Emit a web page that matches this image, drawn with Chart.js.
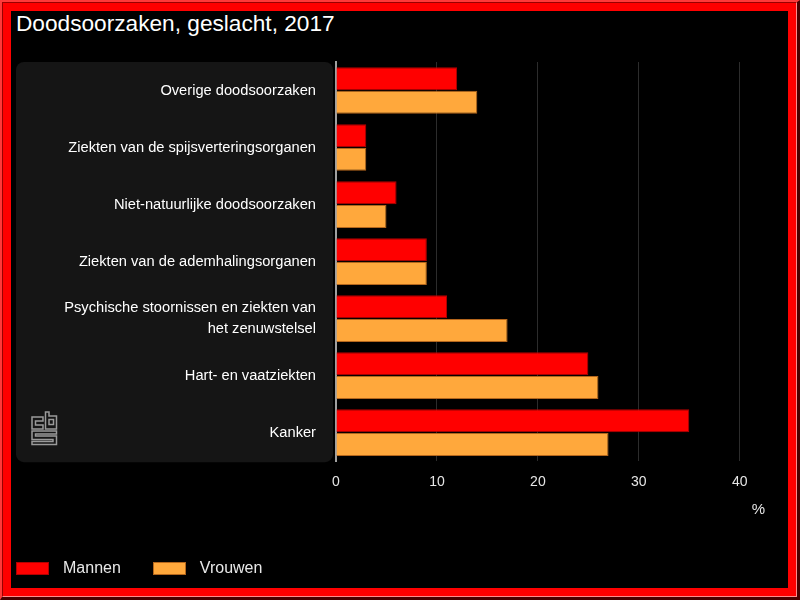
<!DOCTYPE html>
<html>
<head>
<meta charset="utf-8">
<title>Doodsoorzaken, geslacht, 2017</title>
<script src="https://cdn.jsdelivr.net/npm/chart.js@4/dist/chart.umd.min.js"></script>
<style>
    html, body { margin: 0; padding: 0; background: #000; }
    body { width: 800px; height: 600px; position: relative; overflow: hidden; font-family: 'Liberation Sans', Arial, sans-serif; }
    #chart { position: absolute; left: 0; top: 0; }
    #title { position: absolute; left: 16px; top: 10px; margin: 0; color: #fff; font-size: 22.67px; font-weight: normal; line-height: 26px; white-space: nowrap; }
    #legend { position: absolute; left: 16px; top: 556px; height: 24px; display: flex; align-items: center; color: #e8e8e8; font-size: 16px; }
    #legend .item { display: flex; align-items: center; margin-right: 32px; }
    #legend .box { width: 31px; height: 11px; border: 1px solid; margin-right: 14px; }
    /* bevelled red frame */
    .f1 { position: absolute; left: 0; top: 0; width: 800px; height: 600px; box-sizing: border-box; pointer-events: none;
          border-style: solid; border-width: 2px 3px 3px 2px; border-color: #ff3a3a #4a0000 #4a0000 #ff3a3a; }
    .f2 { height: 100%; box-sizing: border-box; border: 1px solid; border-color: #9a0000 #ff8c8c #ff8c8c #9a0000; }
    .f3 { height: 100%; box-sizing: border-box; border: 8px solid #ff0000; }
</style>
</head>
<body>
<h1 id="title">Doodsoorzaken, geslacht, 2017</h1>
<canvas id="chart" width="800" height="600"></canvas>
<div id="legend"></div>
<div class="f1"><div class="f2"><div class="f3"></div></div></div>

<script>
// data (percent of deaths)
const categories = [
    'Overige doodsoorzaken',
    'Ziekten van de spijsverteringsorganen',
    'Niet-natuurlijke doodsoorzaken',
    'Ziekten van de ademhalingsorganen',
    ['Psychische stoornissen en ziekten van', 'het zenuwstelsel'],
    'Hart- en vaatziekten',
    'Kanker'
];
const seriesNames = ['Mannen', 'Vrouwen'];
const mannen = [12, 3, 6, 9, 11, 25, 35];
const vrouwen = [14, 3, 5, 9, 17, 26, 27];
const xTicks = [0, 10, 20, 30, 40];
const xUnit = '%';

const colors = ['#ff0000', '#ffa83c'];
const borderColors = ['#b30000', '#b4661c'];

Chart.defaults.font.family = "'Liberation Sans', Arial, sans-serif";

// dark panel behind the category labels + cbs logo
const panelPlugin = {
    id: 'panel',
    beforeDraw(chart) {
        const ctx = chart.ctx;
        const a = chart.chartArea;
        const x0 = 16, x1 = a.left - 3, y0 = a.top, y1 = a.bottom + 1, r = 8;
        ctx.save();
        ctx.fillStyle = '#151515';
        ctx.beginPath();
        ctx.roundRect(x0, y0, x1 - x0, y1 - y0, r);
        ctx.fill();

        // little cbs mark, outlined
        ctx.strokeStyle = '#9a9a9a';
        ctx.lineWidth = 1.5;
        const ox = 32, oy = 412;
        // c
        ctx.beginPath();
        ctx.moveTo(ox + 11, oy + 5);
        ctx.lineTo(ox, oy + 5);
        ctx.lineTo(ox, oy + 17);
        ctx.lineTo(ox + 11, oy + 17);
        ctx.lineTo(ox + 11, oy + 13);
        ctx.lineTo(ox + 3.5, oy + 13);
        ctx.lineTo(ox + 3.5, oy + 9);
        ctx.lineTo(ox + 11, oy + 9);
        ctx.closePath();
        ctx.stroke();
        // b
        ctx.beginPath();
        ctx.moveTo(ox + 13.5, oy);
        ctx.lineTo(ox + 17, oy);
        ctx.lineTo(ox + 17, oy + 4);
        ctx.lineTo(ox + 24.5, oy + 4);
        ctx.lineTo(ox + 24.5, oy + 17);
        ctx.lineTo(ox + 13.5, oy + 17);
        ctx.closePath();
        ctx.stroke();
        ctx.strokeRect(ox + 17, oy + 7.5, 4.5, 5);
        // s
        ctx.beginPath();
        ctx.moveTo(ox + 24.5, oy + 19);
        ctx.lineTo(ox, oy + 19);
        ctx.lineTo(ox, oy + 27.5);
        ctx.lineTo(ox + 21, oy + 27.5);
        ctx.lineTo(ox + 21, oy + 29.5);
        ctx.lineTo(ox, oy + 29.5);
        ctx.lineTo(ox, oy + 32.5);
        ctx.lineTo(ox + 24.5, oy + 32.5);
        ctx.lineTo(ox + 24.5, oy + 24);
        ctx.lineTo(ox + 3.5, oy + 24);
        ctx.lineTo(ox + 3.5, oy + 22);
        ctx.lineTo(ox + 24.5, oy + 22);
        ctx.closePath();
        ctx.stroke();
        ctx.restore();
    }
};

const ctx = document.getElementById('chart').getContext('2d');
const chart = new Chart(ctx, {
    type: 'bar',
    data: {
        labels: categories,
        datasets: [
            {
                label: seriesNames[0],
                data: mannen,
                backgroundColor: colors[0],
                borderColor: borderColors[0],
                borderWidth: 1
            },
            {
                label: seriesNames[1],
                data: vrouwen,
                backgroundColor: colors[1],
                borderColor: borderColors[1],
                borderWidth: 1
            }
        ]
    },
    options: {
        indexAxis: 'y',
        responsive: false,
        devicePixelRatio: 1,
        animation: false,
        categoryPercentage: 0.83,
        barPercentage: 0.97,
        layout: { padding: { top: 62, left: 16, right: 35, bottom: 78 } },
        scales: {
            x: {
                type: 'linear',
                min: 0,
                max: 42.5,
                afterBuildTicks(scale) {
                    scale.ticks = xTicks.map(v => ({ value: v }));
                },
                ticks: { color: '#e6e6e6', font: { size: 14 }, padding: 13 },
                grid: { color: '#2c2c2c', drawTicks: false },
                border: { display: false },
                title: {
                    display: true,
                    text: xUnit,
                    align: 'end',
                    color: '#e6e6e6',
                    font: { size: 15 },
                    padding: { top: -3, bottom: 3 }
                }
            },
            y: {
                ticks: { color: '#ffffff', font: { size: 14.67, lineHeight: 1.4 }, padding: 20 },
                grid: { display: false, drawTicks: false },
                border: { display: true, color: '#a0a0a0', width: 2 },
                afterFit(scale) { scale.width = 320; }
            }
        },
        plugins: {
            legend: { display: false },
            tooltip: { enabled: false }
        }
    },
    plugins: [panelPlugin]
});

// html legend built from the datasets
const legend = document.getElementById('legend');
chart.data.datasets.forEach(ds => {
    const item = document.createElement('div');
    item.className = 'item';
    const box = document.createElement('span');
    box.className = 'box';
    box.style.background = ds.backgroundColor;
    box.style.borderColor = ds.borderColor;
    const txt = document.createElement('span');
    txt.textContent = ds.label;
    item.appendChild(box);
    item.appendChild(txt);
    legend.appendChild(item);
});
</script>
</body>
</html>
